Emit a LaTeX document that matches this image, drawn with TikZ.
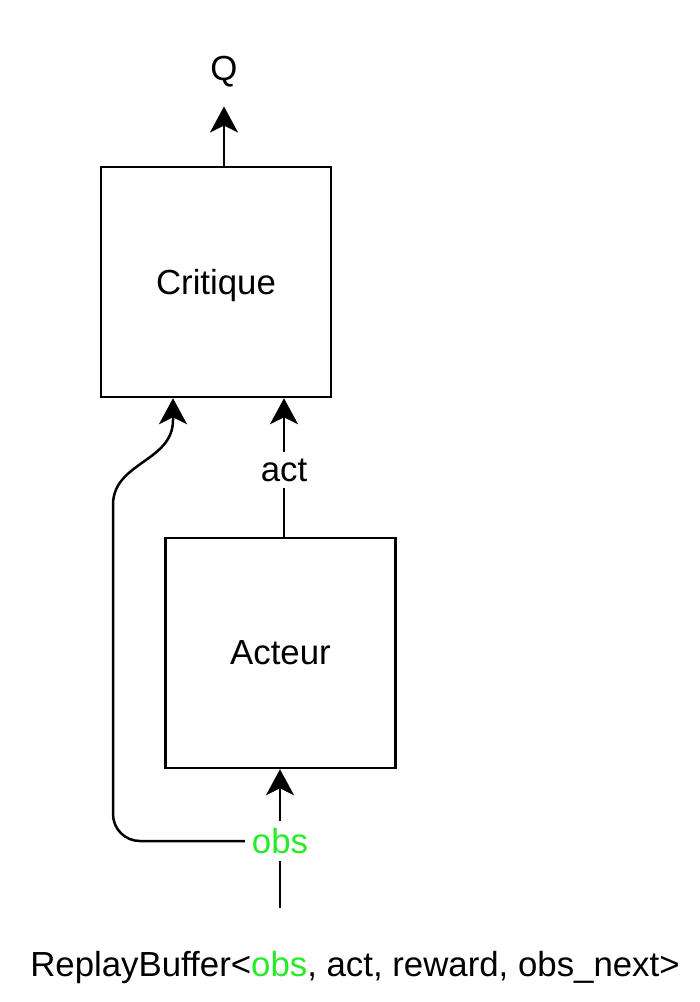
\documentclass[tikz,border=0pt]{standalone}
\usepackage{fontspec}
\setmainfont{Liberation Sans}
\usetikzlibrary{arrows.meta}
\definecolor{obsgreen}{RGB}{40,235,40}

\tikzset{
  box/.style={draw, line width=1.25pt, minimum width=115pt, minimum height=115pt, text depth=0pt},
  flow/.style={line width=1.25pt, -{Stealth[length=13pt,width=14pt,inset=3.5pt]}},
  wire/.style={line width=1.25pt},
}

\begin{document}
\begin{tikzpicture}[x=0.5pt, y=-0.5pt, font=\fontsize{17.4pt}{20pt}\selectfont]
      \useasboundingbox (0,0) rectangle (700,1002);

      \node[box] (crit) at (216,282) {Critique};
      \node[box] (acteur) at (280.5,653) {Acteur};
      \node (Q) at (224,72) {Q};
      \node (actlbl) at (284,470) {act};
      \node[text=obsgreen] (obs) at (280,841) {obs};
      \node (buf) at (355,967) {ReplayBuffer<\textcolor{obsgreen}{obs}, act, reward, obs\_next>};
      \coordinate (src) at (280,908);
      \coordinate (up) at (113,505);
      \coordinate (kink) at (173,420);

      % critique -> Q
      \draw[flow, shorten >=6pt] (crit.north -| Q) -- (Q.south);
      % acteur -> critique
      \draw[wire] (acteur.north -| actlbl) -- (actlbl);
      \draw[flow] (actlbl) -- (crit.south -| actlbl);
      % buffer -> acteur
      \draw[wire] (src) -- (obs);
      \draw[flow] (obs) -- (acteur.south -| obs);
      % obs -> critique
      \draw[flow] (obs.west) -- (140,841) .. controls (125,841) and (113,829) .. (113,814)
        -- (up) .. controls (113,462) and (173,462) .. (kink) -- (kink |- crit.south);
    \end{tikzpicture}
\end{document}
